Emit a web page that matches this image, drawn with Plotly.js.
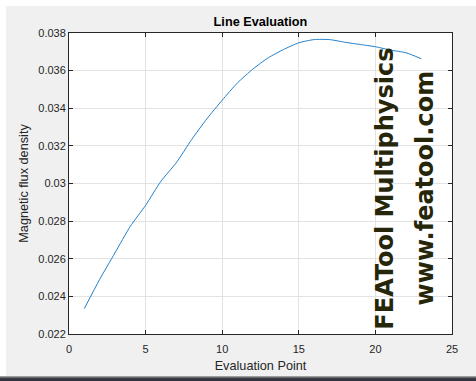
<!DOCTYPE html>
<html>
<head>
<meta charset="utf-8">
<script src="https://cdn.plot.ly/plotly-3.0.1.min.js"></script>
<style>
  html, body { margin: 0; padding: 0; background: #ffffff; width: 476px; height: 381px; overflow: hidden; }
  #frame { position: absolute; left: 6px; top: 6px; width: 470px; height: 370px; background: #f0f0f0; }
  #chart { position: absolute; left: 0; top: 0; width: 470px; height: 370px; }
  #bar { position: absolute; left: 0; top: 376px; width: 476px; height: 5px; background: linear-gradient(to bottom, #9a9a9a 0px, #9a9a9a 1px, #3c3c46 2px, #2e2e3a 5px); }
</style>
</head>
<body>
<div id="frame"><div id="chart"></div></div>
<div id="bar"></div>
<script>
const evalPoints = [1,2,3,4,5,6,7,8,9,10,11,12,13,14,15,16,17,18,19,20,21,22,23];
const fluxDensity = [0.02335,0.0249,0.02631,0.02772,0.02884,0.03012,0.0311,0.03233,0.03344,0.03443,0.03535,0.03608,0.03668,0.03712,0.03748,0.03765,0.03765,0.03751,0.03739,0.03727,0.03709,0.03695,0.03663];
const xTicks = [0,5,10,15,20,25];
const yTicks = [0.022,0.024,0.026,0.028,0.03,0.032,0.034,0.036,0.038];
const yTickText = ['0.022','0.024','0.026','0.028','0.03','0.032','0.034','0.036','0.038'];

const axisColor = '#262626';
const fam = 'Liberation Sans, Arial, sans-serif';
const trace = {
  x: evalPoints, y: fluxDensity, type: 'scatter', mode: 'lines',
  line: { color: '#1f7fcc', width: 1, shape: 'spline', smoothing: 0.6 }, hoverinfo: 'skip'
};
const common = {
  showline: true, mirror: 'ticks', linecolor: axisColor, linewidth: 1,
  ticks: 'inside', ticklen: 4, tickcolor: axisColor, tickwidth: 1,
  showgrid: true, gridcolor: '#e3e3e3', gridwidth: 1, zeroline: false,
  tickfont: { family: fam, size: 11, color: axisColor }
};
const layout = {
  width: 470, height: 370,
  margin: { l: 63.3, r: 24.3, t: 27.3, b: 41.7 },
  paper_bgcolor: '#f0f0f0', plot_bgcolor: '#ffffff',
  showlegend: false,
  title: { text: '<b>Line Evaluation</b>', x: 0.5, xref: 'paper', y: 1, yref: 'container', yanchor: 'top', pad: { t: 11 },
           font: { family: fam, size: 12.7, color: '#000000' } },
  xaxis: Object.assign({}, common, {
    range: [0, 25], tickvals: xTicks, ticktext: xTicks.map(String), ticklabelstandoff: 5,
    title: { text: 'Evaluation Point', standoff: 6, font: { family: fam, size: 12.7, color: axisColor } }
  }),
  yaxis: Object.assign({}, common, {
    range: [0.022, 0.038], tickvals: yTicks, ticktext: yTickText,
    title: { text: 'Magnetic flux density', standoff: 6, font: { family: fam, size: 12.7, color: axisColor } }
  }),
  annotations: [
    { text: '<b>FEATool Multiphysics</b>', xref: 'x', yref: 'y', x: 20.63, y: 0.02973, textangle: -90, showarrow: false,
      font: { family: 'DejaVu Sans, sans-serif', size: 24, color: '#26260a' } },
    { text: '<b>www.featool.com</b>', xref: 'x', yref: 'y', x: 23.25, y: 0.02975, textangle: -90, showarrow: false,
      font: { family: 'DejaVu Sans, sans-serif', size: 24, color: '#26260a' } }
  ]
};
Plotly.newPlot('chart', [trace], layout, { staticPlot: true, displayModeBar: false });
</script>
</body>
</html>
